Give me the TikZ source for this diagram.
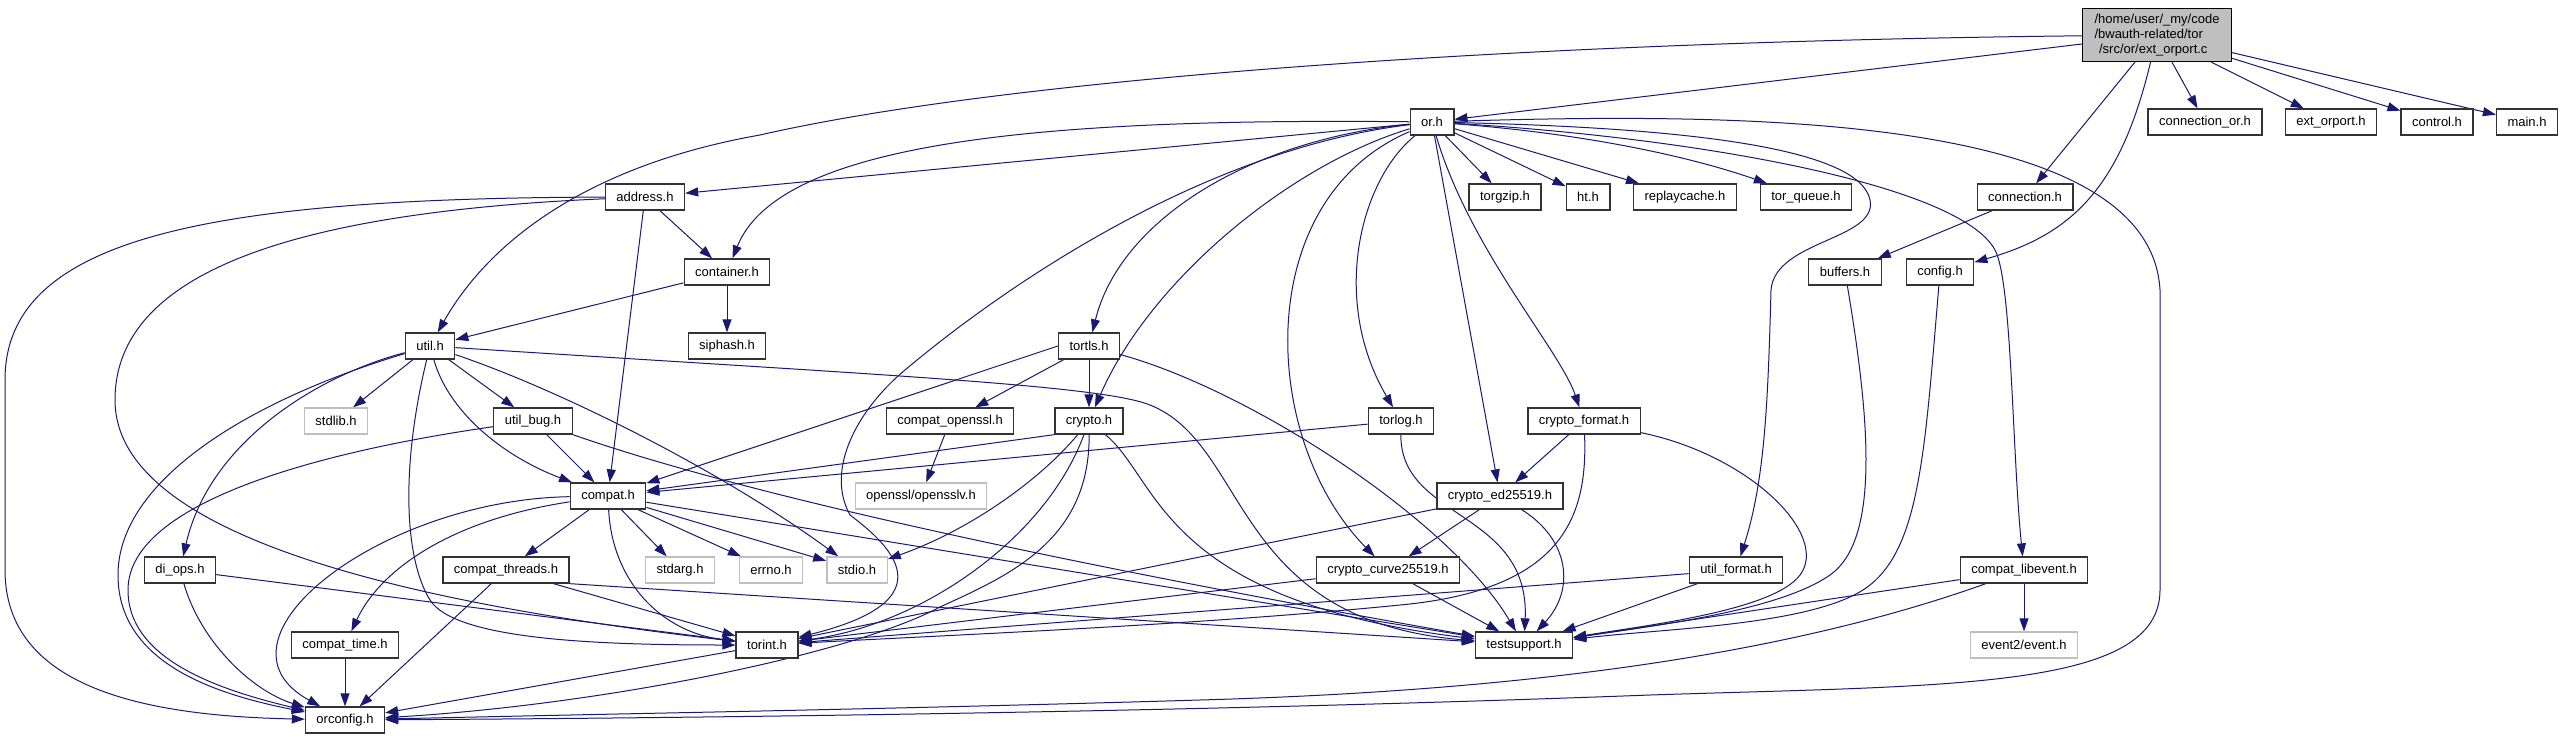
\documentclass[tikz,border=0pt]{standalone}
\usepackage{fontspec}
\setmainfont{Liberation Sans}
\usetikzlibrary{arrows.meta, backgrounds}
\definecolor{edgeblue}{HTML}{191970}
\definecolor{sysgray}{HTML}{BFBFBF}

\begin{document}
\begin{tikzpicture}[x=0.5pt, y=-0.5pt, >={Triangle[length=6.5pt,width=4.5pt]},
    every node/.style={font=\fontsize{6.5}{7.5}\selectfont},
    hdr/.style={draw=black!80, line width=0.65pt, fill=white, inner xsep=5.5pt, inner ysep=0pt, minimum height=13pt},
    sys/.style={hdr, draw=sysgray},
    src/.style={hdr, draw=black, fill=sysgray, align=left, minimum width=74.5pt, minimum height=26.5pt},
    dep/.style={->, draw=edgeblue, line width=0.5pt}]
    \useasboundingbox (0,0) rectangle (2564,739);

    % source file
    \node[src] (extorportc) at (2157,35) {/home/user/\_my/code\\/bwauth-related/tor\\\hspace*{2.3pt}/src/or/ext\_orport.c};

    % headers
    \node[hdr] (orh) at (1432,122) {or.h};
    \node[hdr] (connectionorh) at (2205,122) {connection\_or.h};
    \node[hdr] (extorporth) at (2331,122) {ext\_orport.h};
    \node[hdr] (controlh) at (2437,122) {control.h};
    \node[hdr] (mainh) at (2527,122) {main.h};
    \node[hdr] (addressh) at (645,197) {address.h};
    \node[hdr] (torgziph) at (1505,197) {torgzip.h};
    \node[hdr] (hth) at (1588,197) {ht.h};
    \node[hdr] (replaycacheh) at (1685,197) {replaycache.h};
    \node[hdr] (torqueueh) at (1806,197) {tor\_queue.h};
    \node[hdr] (connectionh) at (2025,197) {connection.h};
    \node[hdr] (containerh) at (727,272) {container.h};
    \node[hdr] (buffersh) at (1845,272) {buffers.h};
    \node[hdr] (configh) at (1940,272) {config.h};
    \node[hdr] (utilh) at (430,346) {util.h};
    \node[hdr] (siphashh) at (727,346) {siphash.h};
    \node[hdr] (tortlsh) at (1089,346) {tortls.h};
    \node[sys] (stdlibh) at (336,421) {stdlib.h};
    \node[hdr] (utilbugh) at (533,421) {util\_bug.h};
    \node[hdr] (compatopensslh) at (950,421) {compat\_openssl.h};
    \node[hdr] (cryptoh) at (1089,421) {crypto.h};
    \node[hdr] (torlogh) at (1401,421) {torlog.h};
    \node[hdr] (cryptoformath) at (1584,421) {crypto\_format.h};
    \node[hdr] (compath) at (608,496) {compat.h};
    \node[sys] (opensslvh) at (921,496) {openssl/opensslv.h};
    \node[hdr] (ed25519h) at (1500,496) {crypto\_ed25519.h};
    \node[hdr] (diopsh) at (180,570) {di\_ops.h};
    \node[hdr] (compatthreadsh) at (506,570) {compat\_threads.h};
    \node[sys] (stdargh) at (680,570) {stdarg.h};
    \node[sys] (errnoh) at (771,570) {errno.h};
    \node[sys] (stdioh) at (857,570) {stdio.h};
    \node[hdr] (curve25519h) at (1388,570) {crypto\_curve25519.h};
    \node[hdr] (utilformath) at (1736,570) {util\_format.h};
    \node[hdr] (compatlibeventh) at (2024,570) {compat\_libevent.h};
    \node[hdr] (compattimeh) at (345,645) {compat\_time.h};
    \node[hdr] (torinth) at (767,645) {torint.h};
    \node[hdr] (testsupporth) at (1524,645) {testsupport.h};
    \node[sys] (eventh) at (2024,645) {event2/event.h};
    \node[hdr] (orconfigh) at (345,720) {orconfig.h};

    \begin{scope}[on background layer]
    % ext_orport.c
    \draw[dep] (extorportc) .. controls (1500,42) and (1000,80) .. (760,135) .. controls (590,165) and (490,240) .. (utilh);
    \draw[dep] (extorportc) -- (orh);
    \draw[dep] (extorportc) -- (connectionorh);
    \draw[dep] (extorportc) -- (extorporth);
    \draw[dep] (extorportc) -- (controlh);
    \draw[dep] (extorportc) -- (mainh);
    \draw[dep] (extorportc) -- (connectionh);
    \draw[dep] (extorportc) .. controls (2120,190) and (2070,235) .. (configh);

    % or.h
    \draw[dep] (orh) -- (addressh);
    \draw[dep] (orh) .. controls (1050,118) and (780,140) .. (containerh);
    \draw[dep] (orh) -- (torgziph);
    \draw[dep] (orh) -- (hth);
    \draw[dep] (orh) -- (replaycacheh);
    \draw[dep] (orh) .. controls (1600,135) and (1700,160) .. (torqueueh);
    \draw[dep] (orh) .. controls (1250,140) and (1120,220) .. (tortlsh);
    \draw[dep] (orh) .. controls (1290,165) and (1150,280) .. (cryptoh);
    \draw[dep] (orh) .. controls (1200,150) and (1000,290) .. (905,370) .. controls (857,410) and (825,470) .. (850,515) .. controls (890,545) and (950,600) .. (torinth);
    \draw[dep] (orh) .. controls (1360,180) and (1330,300) .. (torlogh);
    \draw[dep] (orh) .. controls (1250,200) and (1260,440) .. (curve25519h);
    \draw[dep] (orh) -- (ed25519h);
    \draw[dep] (orh) .. controls (1470,250) and (1560,350) .. (cryptoformath);
    \draw[dep] (orh) .. controls (1700,128) and (1860,150) .. (1870,200) .. controls (1878,240) and (1775,240) .. (1771,290) .. controls (1768,400) and (1765,480) .. (utilformath);
    \draw[dep] (orh) .. controls (1700,138) and (1960,185) .. (1995,250) .. controls (2012,282) and (2012,450) .. (compatlibeventh);
    \draw[dep] (orh) .. controls (1750,112) and (2150,115) .. (2160,290) -- (2160,590) .. controls (2160,690) and (1950,685) .. (1650,695) .. controls (1200,712) and (700,718) .. (orconfigh);

    % address.h
    \draw[dep] (addressh) -- (containerh);
    \draw[dep] (addressh) -- (compath);
    \draw[dep] (addressh) .. controls (300,212) and (115,270) .. (115,400) .. controls (115,530) and (380,600) .. (torinth);
    \draw[dep] (addressh) .. controls (200,198) and (5,240) .. (5,380) -- (5,570) .. controls (5,690) and (150,716) .. (orconfigh);

    % container.h
    \draw[dep] (containerh) -- (utilh);
    \draw[dep] (containerh) -- (siphashh);

    % util.h
    \draw[dep] (utilh) -- (stdlibh);
    \draw[dep] (utilh) -- (utilbugh);
    \draw[dep] (utilh) .. controls (448,410) and (500,455) .. (compath);
    \draw[dep] (utilh) .. controls (320,375) and (210,440) .. (diopsh);
    \draw[dep] (utilh) .. controls (250,400) and (118,480) .. (118,575) .. controls (118,665) and (220,695) .. (orconfigh);
    \draw[dep] (utilh) .. controls (400,470) and (405,560) .. (430,600) .. controls (455,640) and (600,645) .. (torinth);
    \draw[dep] (utilh) .. controls (560,390) and (720,470) .. (stdioh);
    \draw[dep] (utilh) .. controls (880,375) and (1100,385) .. (1150,405) .. controls (1250,445) and (1230,620) .. (testsupporth);

    % util_bug.h
    \draw[dep] (utilbugh) .. controls (330,450) and (128,500) .. (128,590) .. controls (128,660) and (220,690) .. (orconfigh);
    \draw[dep] (utilbugh) -- (compath);
    \draw[dep] (utilbugh.south east) .. controls (760,500) and (1100,570) .. (testsupporth);

    % tortls.h
    \draw[dep] (tortlsh.west) -- (compath);
    \draw[dep] (tortlsh) -- (compatopensslh);
    \draw[dep] (tortlsh) -- (cryptoh);
    \draw[dep] (tortlsh) .. controls (1250,390) and (1450,520) .. (testsupporth);

    % compat.h
    \draw[dep] (compath) .. controls (380,500) and (200,640) .. (orconfigh);
    \draw[dep] (compath) .. controls (450,520) and (380,570) .. (compattimeh);
    \draw[dep] (compath) -- (compatthreadsh);
    \draw[dep] (compath) -- (stdargh);
    \draw[dep] (compath) -- (errnoh);
    \draw[dep] (compath) -- (stdioh);
    \draw[dep] (compath) .. controls (612,580) and (660,632) .. (torinth);
    \draw[dep] (compath) -- (testsupporth);

    % lower layers
    \draw[dep] (diopsh) -- (torinth);
    \draw[dep] (diopsh) .. controls (200,640) and (250,690) .. (orconfigh);
    \draw[dep] (compatthreadsh) -- (orconfigh);
    \draw[dep] (compatthreadsh) -- (torinth);
    \draw[dep] (compatthreadsh.south east) -- (testsupporth);
    \draw[dep] (compattimeh) -- (orconfigh);
    \draw[dep] (torinth) -- (orconfigh);
    \draw[dep] (compatopensslh) -- (opensslvh);

    % crypto.h
    \draw[dep] (cryptoh.south west) -- (compath);
    \draw[dep] (cryptoh) .. controls (1040,480) and (970,530) .. (stdioh);
    \draw[dep] (cryptoh) .. controls (1045,540) and (920,625) .. (torinth);
    \draw[dep] (cryptoh) .. controls (1090,540) and (1010,575) .. (940,607) .. controls (850,655) and (600,705) .. (orconfigh);
    \draw[dep] (cryptoh) .. controls (1160,480) and (1160,600) .. (testsupporth);

    % torlog.h
    \draw[dep] (torlogh) -- (compath);
    \draw[dep] (torlogh) .. controls (1400,520) and (1530,510) .. (testsupporth);

    % crypto_format.h
    \draw[dep] (cryptoformath) -- (ed25519h);
    \draw[dep] (cryptoformath) .. controls (1588,520) and (1560,590) .. (1400,605) .. controls (1200,625) and (950,635) .. (torinth);
    \draw[dep] (cryptoformath) .. controls (1750,455) and (1830,535) .. (1800,575) .. controls (1774,610) and (1650,625) .. (testsupporth);

    % crypto_ed25519.h, crypto_curve25519.h
    \draw[dep] (ed25519h) -- (curve25519h);
    \draw[dep] (ed25519h) -- (torinth);
    \draw[dep] (ed25519h) .. controls (1570,540) and (1575,590) .. (testsupporth);
    \draw[dep] (curve25519h) -- (torinth);
    \draw[dep] (curve25519h) -- (testsupporth);

    % util_format.h, compat_libevent.h
    \draw[dep] (utilformath) -- (torinth);
    \draw[dep] (utilformath) -- (testsupporth);
    \draw[dep] (compatlibeventh) -- (testsupporth);
    \draw[dep] (compatlibeventh) .. controls (1800,650) and (1550,690) .. (1200,700) .. controls (900,709) and (600,714) .. (orconfigh);
    \draw[dep] (compatlibeventh) -- (eventh);

    % connection.h, buffers.h, config.h
    \draw[dep] (connectionh) -- (buffersh);
    \draw[dep] (buffersh) .. controls (1870,420) and (1880,540) .. (1830,575) .. controls (1780,610) and (1660,625) .. (testsupporth);
    \draw[dep] (configh) .. controls (1925,450) and (1920,545) .. (1870,585) .. controls (1820,625) and (1670,628) .. (testsupporth);
    \end{scope}
\end{tikzpicture}
\end{document}
